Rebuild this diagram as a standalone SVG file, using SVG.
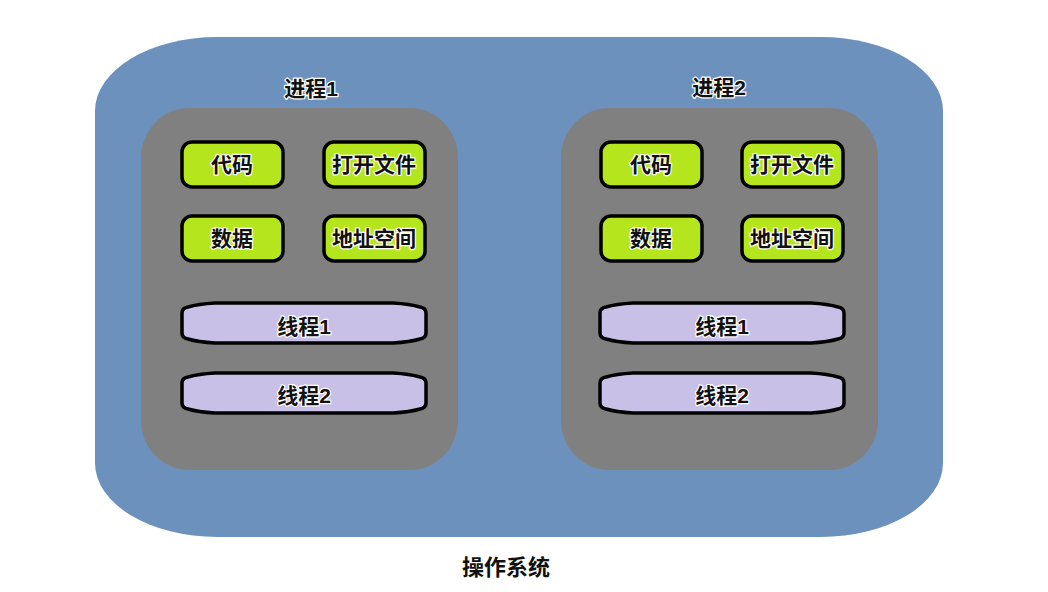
<svg xmlns="http://www.w3.org/2000/svg" width="1048" height="592" viewBox="0 0 1048 592">
<style>
text{font-family:"Liberation Sans","Noto Sans CJK SC",sans-serif;font-weight:bold;fill:#111;text-anchor:middle;dominant-baseline:central;paint-order:stroke;stroke:#fff;stroke-width:2.4px;stroke-linejoin:round}
.t{font-size:21px}
.b{font-size:21px}
.os{fill:#6d91bd}
.proc{fill:#808080}
.res{fill:#b5e61d;stroke:#000;stroke-width:3.5}
.thr{fill:#c8c0e6;stroke:#000;stroke-width:3.5}
</style>
<defs>
<path id="thread" d="M0,10 Q0,5 6,4 Q16,1 33,0 L211,0 Q228,1 238,4 Q244,5 244,10 L244,30 Q244,35 238,36 Q228,39 211,40 L33,40 Q16,39 6,36 Q0,35 0,30 Z"/>
</defs>
<rect width="1048" height="592" fill="#fff"/>
<g id="os">
<rect class="os" x="95" y="37" width="848" height="500" rx="122" ry="74"/>
<text class="t" x="506" y="567" style="stroke:none;font-size:22px">操作系统</text>
</g>
<g id="process1">
<text class="t" x="311" y="88">进程1</text>
<rect class="proc" x="141" y="108" width="317" height="362" rx="48" ry="50"/>
</g>
<g id="process2">
<text class="t" x="719" y="87">进程2</text>
<rect class="proc" x="561" y="108" width="317" height="362" rx="48" ry="50"/>
</g>
<g id="p1-code"><rect class="res" x="182" y="142" width="101" height="45" rx="10"/><text class="b" x="232" y="164">代码</text></g>
<g id="p1-files"><rect class="res" x="324" y="142" width="101" height="45" rx="10"/><text class="b" x="374" y="164">打开文件</text></g>
<g id="p1-data"><rect class="res" x="182" y="216" width="101" height="45" rx="10"/><text class="b" x="232" y="238">数据</text></g>
<g id="p1-addr"><rect class="res" x="324" y="216" width="101" height="45" rx="10"/><text class="b" x="374" y="238">地址空间</text></g>
<g id="p1-thread1"><use href="#thread" class="thr" x="182" y="303"/><text class="b" x="304" y="326">线程1</text></g>
<g id="p1-thread2"><use href="#thread" class="thr" x="182" y="373"/><text class="b" x="304" y="395">线程2</text></g>
<g id="p2-code"><rect class="res" x="601" y="142" width="101" height="45" rx="10"/><text class="b" x="651" y="164">代码</text></g>
<g id="p2-files"><rect class="res" x="742" y="142" width="101" height="45" rx="10"/><text class="b" x="792" y="164">打开文件</text></g>
<g id="p2-data"><rect class="res" x="601" y="216" width="101" height="45" rx="10"/><text class="b" x="651" y="238">数据</text></g>
<g id="p2-addr"><rect class="res" x="742" y="216" width="101" height="45" rx="10"/><text class="b" x="792" y="238">地址空间</text></g>
<g id="p2-thread1"><use href="#thread" class="thr" x="600" y="303"/><text class="b" x="722" y="326">线程1</text></g>
<g id="p2-thread2"><use href="#thread" class="thr" x="600" y="373"/><text class="b" x="722" y="395">线程2</text></g>
<g id="connectors"></g>
</svg>
